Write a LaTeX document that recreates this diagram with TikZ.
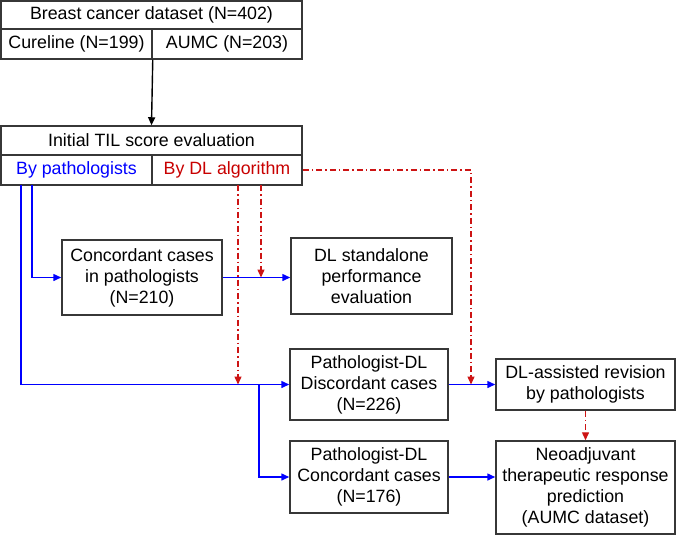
\documentclass[tikz,border=0pt]{standalone}
\usepackage{fontspec}
\setmainfont{Liberation Sans}
\usetikzlibrary{arrows.meta,calc}
\definecolor{bx}{RGB}{55,55,55}
\definecolor{pblue}{RGB}{0,0,255}
\definecolor{dred}{RGB}{200,0,0}
\definecolor{lred}{RGB}{205,20,20}
\tikzset{
  box/.style={draw=bx,line width=1.5pt,rectangle,inner sep=0pt,align=center,
    font=\fontsize{17.8}{21}\selectfont},
  barrow/.style={draw=pblue,line width=1.5pt,-{Triangle[length=8pt,width=7pt]}},
  rarrow/.style={draw=lred,line width=1.4pt,dash pattern=on 6pt off 3pt on 1.5pt off 3pt,
    -{Triangle[length=8pt,width=7pt]}},
  karrow/.style={draw=black,line width=1.4pt,-{Triangle[length=8pt,width=7pt]}},
}
\begin{document}
\begin{tikzpicture}[x=1pt,y=-1pt]
\useasboundingbox (0,0) rectangle (676,535);
% top block
\node[box,minimum width=301pt,minimum height=28pt] (ds) at (151.5,15) {Breast cancer dataset (N=402)};
\node[box,minimum width=151pt,minimum height=30pt] (cur) at (76.5,44) {Cureline (N=199)};
\node[box,minimum width=150pt,minimum height=30pt] (aumc) at (227,44) {AUMC (N=203)};
% TIL block
\node[box,minimum width=301pt,minimum height=29pt] (til) at (151.5,140.5) {Initial TIL score evaluation};
\node[box,minimum width=151pt,minimum height=30pt,text=pblue] (bypath) at (76.5,170) {By pathologists};
\node[box,minimum width=150pt,minimum height=30pt,text=dred] (bydl) at (227,170) {By DL algorithm};
% other boxes
\node[box,minimum width=160pt,minimum height=75pt] (conc) at (142,277.5) {Concordant cases\\in pathologists\\(N=210)};
\node[box,minimum width=161pt,minimum height=76pt] (stand) at (371.5,276) {DL standalone\\performance\\evaluation};
\node[box,minimum width=158pt,minimum height=71pt] (disc) at (369,384.5) {Pathologist-DL\\Discordant cases\\(N=226)};
\node[box,minimum width=158pt,minimum height=72pt] (pconc) at (369,477) {Pathologist-DL\\Concordant cases\\(N=176)};
\node[box,minimum width=179pt,minimum height=51pt] (rev) at (585.5,384.5) {DL-assisted revision\\by pathologists};
\node[box,minimum width=179pt,minimum height=93pt] (neo) at (585.5,487.5) {Neoadjuvant\\therapeutic response\\prediction\\(AUMC dataset)};
% coordinates
\coordinate (bp1) at (21,185);
\coordinate (bp2) at (32,185);
\coordinate (br) at (259,384.5);
\coordinate (rd1) at (238,185);
\coordinate (rd2) at (261,185);
\coordinate (rc) at (471,170);
% black arrow
\draw[karrow] (cur.south east) -- (til.north);
% blue connectors
\draw[barrow] (bp1) |- (disc.west);
\draw[barrow] (bp2) |- (conc.west);
\draw[barrow] (conc.east) -- (conc.east -| stand.west);
\draw[barrow] (br) |- (pconc.west);
\draw[barrow] (disc.east) -- (rev.west);
\draw[barrow] (pconc.east) -- (pconc.east -| neo.west);
% red connectors
\draw[rarrow] (rd1) -- (rd1 |- disc.west);
\draw[rarrow] (rd2) -- (rd2 |- conc.east);
\draw[rarrow] (bydl.east) -- (rc) -- (rc |- rev.west);
\draw[rarrow] (rev.south) -- (neo.north);
\end{tikzpicture}
\end{document}
